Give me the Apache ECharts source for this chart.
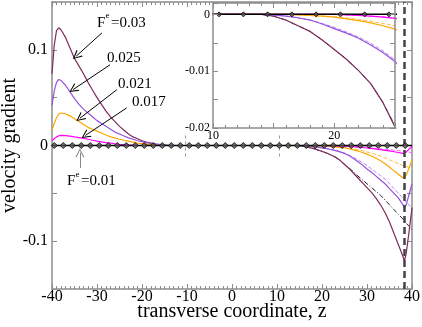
<!DOCTYPE html>
<html>
<head>
<meta charset="utf-8">
<script src="https://cdn.jsdelivr.net/npm/echarts@6/dist/echarts.min.js"></script>
<style>
html,body{margin:0;padding:0;background:#fff;}
#main{width:422px;height:327px;}
</style>
</head>
<body>
<div id="main"></div>
<script>
// transverse coordinate samples, left wall region and right wall region
var zLeft  = [-40,-39.5,-39,-38.5,-38,-37,-36,-35,-34,-33,-32,-31,-30,-29,-28,-27,-26,-25,-24,-23,-22,-21,-20,-19,-18,-17,-16,-15,-14];
var zRight = [14,15,16,17,18,19,20,21,22,23,24,25,26,27,28,29,30,31,32,33,34,35,36,37,38,38.3,38.7,39.3,40];

// F^e = 0.03
var f030Left  = [0.075,0.105,0.12,0.123,0.121,0.113,0.102,0.091,0.083,0.075,0.066,0.058,0.050,0.043,0.036,0.030,0.025,0.020,0.016,0.012,0.009,0.007,0.005,0.0035,0.0025,0.0015,0.001,0.0005,0];
var f030Right = [0,-0.0003,-0.001,-0.002,-0.003,-0.0045,-0.0062,-0.0079,-0.0099,-0.0122,-0.0155,-0.0198,-0.024,-0.029,-0.034,-0.039,-0.044,-0.049,-0.055,-0.062,-0.070,-0.080,-0.092,-0.104,-0.116,-0.121,-0.113,-0.092,-0.065];
var f030Dash  = [0,-0.0003,-0.001,-0.002,-0.003,-0.0045,-0.0062,-0.0079,-0.0099,-0.0122,-0.0155,-0.0196,-0.0235,-0.0275,-0.032,-0.036,-0.040,-0.044,-0.048,-0.052,-0.057,-0.062,-0.067,-0.072,-0.077,-0.079,-0.081,-0.084,-0.088];
// F^e = 0.025
var f025Left  = [0.042,0.057,0.066,0.069,0.068,0.063,0.056,0.049,0.043,0.038,0.034,0.030,0.026,0.023,0.020,0.017,0.014,0.012,0.010,0.008,0.0065,0.005,0.004,0.003,0.002,0.0015,0.001,0.0005,0];
var f025Right = [0,-0.0001,-0.0003,-0.0006,-0.001,-0.0017,-0.0025,-0.0033,-0.0042,-0.0054,-0.0067,-0.0083,-0.0105,-0.0135,-0.017,-0.0205,-0.0245,-0.028,-0.032,-0.036,-0.040,-0.045,-0.050,-0.055,-0.062,-0.066,-0.062,-0.052,-0.040];
var f025Dash  = [0,-0.0001,-0.0003,-0.0006,-0.001,-0.0016,-0.0023,-0.0031,-0.004,-0.0051,-0.0064,-0.008,-0.010,-0.0125,-0.015,-0.018,-0.021,-0.0245,-0.028,-0.0315,-0.035,-0.040,-0.045,-0.050,-0.055,-0.057,-0.059,-0.062,-0.066];
// F^e = 0.021
var f021Left  = [0.016,0.023,0.029,0.033,0.034,0.033,0.031,0.028,0.025,0.022,0.019,0.017,0.015,0.013,0.011,0.009,0.008,0.0065,0.0055,0.0045,0.0035,0.0025,0.002,0.0015,0.001,0.0005,0.0002,0,0];
var f021Right = [0,0,0,-0.0001,-0.0002,-0.0003,-0.0005,-0.0008,-0.0011,-0.0015,-0.002,-0.0026,-0.0034,-0.0045,-0.0058,-0.0073,-0.009,-0.011,-0.0133,-0.016,-0.019,-0.0225,-0.0265,-0.030,-0.034,-0.035,-0.031,-0.024,-0.015];
var f021Dash  = [0,0,0,-0.0001,-0.0002,-0.0003,-0.0004,-0.0006,-0.0009,-0.0012,-0.0016,-0.002,-0.0027,-0.0035,-0.0045,-0.0055,-0.0067,-0.008,-0.0095,-0.011,-0.013,-0.015,-0.017,-0.019,-0.021,-0.0215,-0.022,-0.023,-0.025];
// F^e = 0.017
var f017Left  = [0.005,0.007,0.009,0.0102,0.0106,0.0104,0.0098,0.009,0.0083,0.0075,0.0065,0.0055,0.0046,0.0038,0.003,0.0024,0.0018,0.0013,0.001,0.0006,0.0003,0.0001,0,0,0,0,0,0,0];
var f017Right = [0,0,0,0,0,0,0,-0.0001,-0.0002,-0.0003,-0.0005,-0.0007,-0.001,-0.0013,-0.0017,-0.0021,-0.0026,-0.0031,-0.0037,-0.0043,-0.005,-0.0057,-0.0065,-0.0073,-0.0083,-0.0087,-0.007,-0.004,-0.001];
var f017Dash  = [0,0,0,0,0,0,0,-0.0001,-0.0002,-0.0003,-0.0004,-0.0006,-0.0009,-0.0012,-0.0015,-0.0018,-0.0022,-0.0026,-0.003,-0.0035,-0.0039,-0.0044,-0.0049,-0.0054,-0.006,-0.0062,-0.0065,-0.0069,-0.0075];
// F^e = 0.01 (flat) and its diamond markers
var f010Z = [-40, 40];
var f010Y = [0, 0];
var markZ = [-39.5,-37.5,-35.5,-33.5,-31.5,-29.5,-27.5,-25.5,-23.5,-21.5,-19.5,-17.5,-15.5,-13.5,-11.5,-9.5,-7.5,-5.5,-3.5,-1.5,0.5,2.5,4.5,6.5,8.5,10.5,12.5,14.5,16.5,18.5,20.5,22.5,24.5,26.5,28.5,30.5,32.5,34.5,36.5,38.5];

var wallZ = 38.3;

window.onload = function () {
	var myChart = echarts.init(document.getElementById('main'));
	var serif = '"Liberation Serif", "DejaVu Serif", serif';
	var frame = '#8c8c8c';
	var vArrow = 'path://M5,0 L10,12 L8.6,12 L5,2.8 L1.4,12 L0,12 Z';

	function pairs(zs, ys) {
		return zs.map(function (z, i) { return [z, ys[i]]; });
	}

	var groups = [
		{left: f030Left, right: f030Right, dash: f030Dash, color: '#7d2c5c', dashColor: '#222', dashType: [5, 2, 1, 2]},
		{left: f025Left, right: f025Right, dash: f025Dash, color: '#9650e0', dashColor: '#b388ee', dashType: [4, 2]},
		{left: f021Left, right: f021Right, dash: f021Dash, color: '#ffa500', dashColor: '#ffbe4a', dashType: [4, 2]},
		{left: f017Left, right: f017Right, dash: f017Dash, color: '#ff00ff', dashColor: '#ff66ff', dashType: [4, 2]}
	];

	// [xAxisIndex, yAxisIndex, line width, marker size, base z]
	var series = [];
	[[0, 0, 1.2, 6, 2], [2, 2, 1.2, 5, 12]].forEach(function (ax) {
		groups.forEach(function (g) {
			series.push({
				type: 'line', xAxisIndex: ax[0], yAxisIndex: ax[1],
				data: pairs(zRight, g.dash),
				showSymbol: false, lineStyle: {color: g.dashColor, width: 1, type: g.dashType}, z: ax[4]
			});
			series.push({
				type: 'line', xAxisIndex: ax[0], yAxisIndex: ax[1],
				data: pairs(zLeft, g.left).concat(pairs(zRight, g.right)),
				showSymbol: false, lineStyle: {color: g.color, width: ax[2]}, z: ax[4] + 1
			});
		});
		series.push({
			type: 'line', xAxisIndex: ax[0], yAxisIndex: ax[1],
			data: pairs(f010Z, f010Y),
			showSymbol: false, lineStyle: {color: '#000', width: 1.5}, z: ax[4] + 2
		});
		series.push({
			type: 'scatter', xAxisIndex: ax[0], yAxisIndex: ax[1], clip: true,
			data: markZ.map(function (z) { return [z, 0]; }),
			symbol: 'diamond', symbolSize: ax[3],
			itemStyle: {color: '#555', borderColor: '#000', borderWidth: 1}, z: ax[4] + 3
		});
	});

	// reference lines and annotation arrows on the main axes
	series.push({
		type: 'line', xAxisIndex: 0, yAxisIndex: 0, data: [], z: 6,
		markLine: {
			silent: true, animation: false, symbol: ['none', 'none'],
			label: {show: false},
			data: [
				[{coord: [wallZ, -0.15], lineStyle: {color: '#444', width: 2.5, type: [7, 4]}}, {coord: [wallZ, 0.15]}],
				[{coord: [-10.4, -0.0115], lineStyle: {color: '#999', width: 1, type: [3, 3]}}, {coord: [-10.4, 0.0115]}],
				[{coord: [10.4, -0.0115], lineStyle: {color: '#999', width: 1, type: [3, 3]}}, {coord: [10.4, 0.0115]}]
			]
		}
	});
	series.push({
		type: 'line', xAxisIndex: 0, yAxisIndex: 0, data: [], z: 7,
		markLine: {
			silent: true, animation: false, symbol: ['none', vArrow], symbolSize: 9,
			label: {show: false},
			lineStyle: {color: '#000', width: 1, type: 'solid'},
			data: [
				[{coord: [-28.9, 0.1177]}, {coord: [-34.6, 0.0935]}],
				[{coord: [-27.1, 0.0844]}, {coord: [-35.3, 0.0585]}],
				[{coord: [-25.6, 0.0583]}, {coord: [-33.8, 0.0285]}],
				[{coord: [-23.4, 0.0393]}, {coord: [-32.6, 0.0105]}],
				[{coord: [-33.8, -0.0235], lineStyle: {color: '#888'}}, {coord: [-33.8, -0.0075]}]
			]
		}
	});
	series.push({
		type: 'line', xAxisIndex: 2, yAxisIndex: 2, data: [], z: 16,
		markLine: {
			silent: true, animation: false, symbol: ['none', 'none'],
			label: {show: false},
			data: [
				[{coord: [10.35, 0.002], lineStyle: {color: '#999', width: 1, type: [3, 3]}}, {coord: [10.35, -0.0012]}]
			]
		}
	});

	function tickAxis(extra) {
		var base = {
			splitLine: {show: false},
			axisLine: {show: true, onZero: false, lineStyle: {color: frame, width: 1.5}},
			axisTick: {show: true, inside: true, length: 5, lineStyle: {color: frame}},
			axisLabel: {show: false}
		};
		for (var k in extra) base[k] = extra[k];
		return base;
	}

	var mainY = function (v) {
		var r = Math.round(v * 100);
		if (r % 10 !== 0) return '';
		return r === 0 ? '0' : (r / 100).toFixed(1);
	};
	var insetY = function (v) {
		var r = Math.round(v * 1000);
		if (r > 0 || r % 10 !== 0) return '';
		return r === 0 ? '0' : (r / 1000).toFixed(2);
	};

	var option = {
		animation: false,
		backgroundColor: '#fff',
		grid: [
			{left: 52, right: 10, top: 2, bottom: 38, outerBoundsMode: 'none', containLabel: false},
			{left: 213, top: 3, width: 182, height: 125, show: true, backgroundColor: '#fff', borderWidth: 0, z: 8,
				outerBoundsMode: 'none', containLabel: false}
		],
		xAxis: [
			tickAxis({type: 'value', gridIndex: 0, position: 'bottom', min: -40, max: 40, interval: 10,
				minorTick: {show: true, splitNumber: 10, length: 3, lineStyle: {color: frame}},
				axisLabel: {show: true, color: '#000', fontFamily: serif, fontSize: 16, margin: 0},
				name: 'transverse coordinate, z', nameLocation: 'middle', nameGap: 13, nameMoveOverlap: false,
				nameTextStyle: {color: '#000', fontFamily: serif, fontSize: 20}}),
			tickAxis({type: 'value', gridIndex: 0, position: 'top', min: -40, max: 40, interval: 10,
				minorTick: {show: true, splitNumber: 10, length: 3, lineStyle: {color: frame}}}),
			tickAxis({type: 'value', gridIndex: 1, position: 'bottom', min: 10, max: 25, interval: 5, z: 18,
				minorTick: {show: true, splitNumber: 5, length: 3, lineStyle: {color: frame}},
				axisLabel: {show: true, color: '#000', fontFamily: serif, fontSize: 12, margin: 2,
					showMinLabel: true, showMaxLabel: true,
					formatter: function (v) { return (v === 10 || v === 20) ? String(v) : ''; }}}),
			tickAxis({type: 'value', gridIndex: 1, position: 'top', min: 10, max: 25, interval: 5, z: 18,
				minorTick: {show: true, splitNumber: 5, length: 3, lineStyle: {color: frame}}})
		],
		yAxis: [
			tickAxis({type: 'value', gridIndex: 0, position: 'left', min: -0.15, max: 0.15, interval: 0.05,
				axisLabel: {show: true, color: '#000', fontFamily: serif, fontSize: 16, margin: 4, formatter: mainY},
				name: 'velocity gradient', nameLocation: 'middle', nameRotate: 90, nameGap: 32, nameMoveOverlap: false,
				nameTextStyle: {color: '#000', fontFamily: serif, fontSize: 20}}),
			tickAxis({type: 'value', gridIndex: 0, position: 'right', min: -0.15, max: 0.15, interval: 0.05}),
			tickAxis({type: 'value', gridIndex: 1, position: 'left', min: -0.02, max: 0.002, interval: 0.005, z: 18,
				axisLabel: {show: true, color: '#000', fontFamily: serif, fontSize: 12, margin: 3,
					showMinLabel: true, formatter: insetY}}),
			tickAxis({type: 'value', gridIndex: 1, position: 'right', min: -0.02, max: 0.002, interval: 0.005, z: 18})
		],
		graphic: [
			{type: 'text', x: 97, y: 23, style: {text: 'F', font: '15px ' + serif, fill: '#000', align: 'left', verticalAlign: 'middle'}},
			{type: 'text', x: 105.5, y: 16, style: {text: 'e', font: '9px ' + serif, fill: '#000', align: 'left', verticalAlign: 'middle'}},
			{type: 'text', x: 111, y: 23, style: {text: '=0.03', font: '15px ' + serif, fill: '#000', align: 'left', verticalAlign: 'middle'}},
			{type: 'text', x: 107, y: 58, style: {text: '0.025', font: '15px ' + serif, fill: '#000', align: 'left', verticalAlign: 'middle'}},
			{type: 'text', x: 118, y: 84, style: {text: '0.021', font: '15px ' + serif, fill: '#000', align: 'left', verticalAlign: 'middle'}},
			{type: 'text', x: 132, y: 102, style: {text: '0.017', font: '15px ' + serif, fill: '#000', align: 'left', verticalAlign: 'middle'}},
			{type: 'text', x: 67, y: 181, style: {text: 'F', font: '15px ' + serif, fill: '#000', align: 'left', verticalAlign: 'middle'}},
			{type: 'text', x: 75.5, y: 175, style: {text: 'e', font: '9px ' + serif, fill: '#000', align: 'left', verticalAlign: 'middle'}},
			{type: 'text', x: 81, y: 181, style: {text: '=0.01', font: '15px ' + serif, fill: '#000', align: 'left', verticalAlign: 'middle'}}
		],
		series: series
	};
	myChart.setOption(option);
};
</script>
</body>
</html>
